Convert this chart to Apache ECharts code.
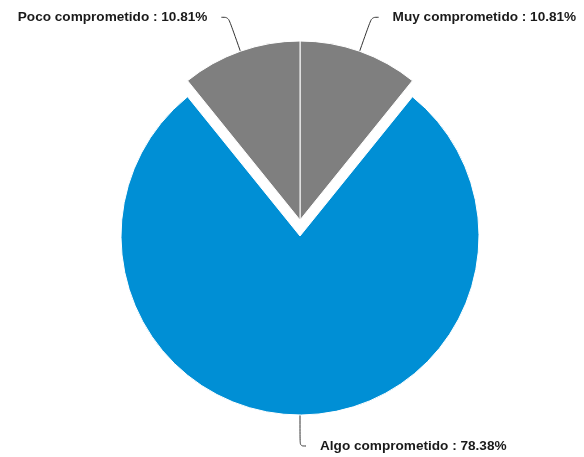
<!DOCTYPE html>
<html>
<head>
<meta charset="utf-8">
<script src="https://cdn.jsdelivr.net/npm/echarts@6/dist/echarts.min.js"></script>
<style>html,body{margin:0;padding:0;background:#fff}#c{width:584px;height:457px}</style>
</head>
<body>
<div id="c"></div>
<script>
const categories = ['Muy comprometido', 'Algo comprometido', 'Poco comprometido'];
const values = [10.81, 78.38, 10.81];
const colors = ['#7f7f7f', '#008fd5', '#7f7f7f'];
const selectedFlags = [false, true, false];

const chart = echarts.init(document.getElementById('c'), null, {renderer: 'canvas'});
const data = categories.map((name, i) => ({
  name: name,
  value: values[i],
  selected: selectedFlags[i],
  itemStyle: {color: colors[i]},
  labelLine: selectedFlags[i] ? {length: 31, length2: 6} : {length: 36, length2: 7}
}));
chart.setOption({
  animation: false,
  series: [{
    type: 'pie',
    center: [300, 220],
    radius: 179,
    startAngle: 90,
    clockwise: true,
    selectedMode: 'single',
    selectedOffset: 16,
    avoidLabelOverlap: false,
    itemStyle: {borderColor: '#ffffff', borderWidth: 1},
    emphasis: {disabled: true},
    label: {
      show: true,
      position: 'outside',
      formatter: p => p.name + ' : ' + p.value.toFixed(2) + '%',
      fontFamily: 'Liberation Sans, Arial, sans-serif',
      fontWeight: 'bold',
      fontSize: 13.6,
      color: '#1a1a1a',
      distanceToLabelLine: 14
    },
    labelLine: {
      show: true,
      smooth: 0.35,
      lineStyle: {color: '#333333', width: 1}
    },
    data: data
  }]
});
</script>
</body>
</html>
